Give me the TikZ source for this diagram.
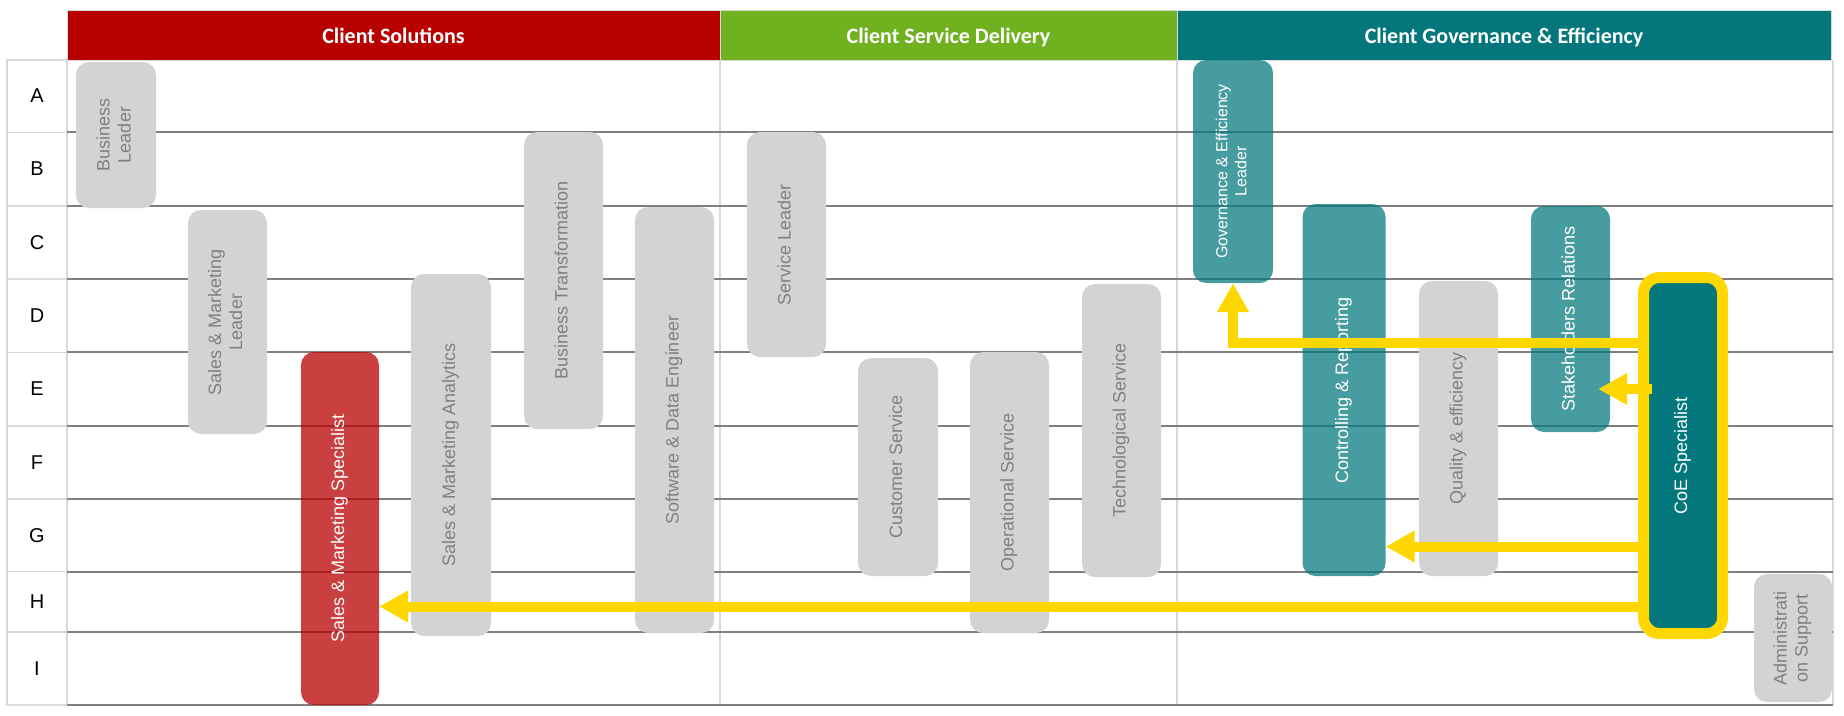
\documentclass[tikz,border=0pt]{standalone}
\usepackage{fontspec}
\setmainfont{Liberation Sans}
\newfontfamily\headfont{Carlito}
\usepackage{tikz}
\usetikzlibrary{arrows.meta, calc}
\definecolor{solred}{RGB}{184, 0, 0}
\definecolor{delgreen}{RGB}{112, 177, 32}
\definecolor{govteal}{RGB}{3, 119, 124}
\definecolor{rolegrey}{RGB}{211, 211, 211}
\definecolor{roletext}{RGB}{128, 128, 128}
\definecolor{gridline}{RGB}{127, 127, 127}
\definecolor{gridlight}{RGB}{217, 217, 217}
\definecolor{flowyellow}{RGB}{255, 215, 0}
\newcommand{\vlabel}[1]{\rotatebox{90}{\begin{tabular}{@{}c@{}}#1\end{tabular}}}
\tikzset{
    headcell/.style={draw=gridlight, line width=1pt, inner sep=0pt, minimum height=50pt, text height=17pt, text depth=0pt, text=white, font=\headfont\fontsize{22}{26}\selectfont\bfseries},
    rowlabel/.style={inner sep=0pt, font=\fontsize{20}{24}\selectfont},
    role/.style={rounded corners=13pt, inner sep=0pt, font=\fontsize{18}{21}\selectfont},
    greyrole/.style={role, fill=rolegrey, text=roletext},
    redrole/.style={role, fill=solred, fill opacity=0.75, text opacity=1, text=white},
    tealrole/.style={role, fill=govteal, fill opacity=0.73, text opacity=1, text=white},
    focusrole/.style={role, fill=govteal, draw=flowyellow, line width=11pt, rounded corners=16pt, text=white},
    flow/.style={draw=flowyellow, line width=10pt, -{Triangle[length=29pt, width=30pt]}},
    rowline/.style={draw=gridline, line width=2pt},
    colline/.style={draw=gridlight, line width=1.5pt}
}

\begin{document}
\begin{tikzpicture}[x=1pt, y=-1pt]
    \useasboundingbox (0,0) rectangle (1844,715);

    % grid
    \draw[colline] (7,60) rectangle (67,705);
    \foreach \y in {132.3,206,279,352.3,426,499,571.7,632}
        \draw[colline] (7,\y) -- (67,\y);
    \draw[colline] (720,10) -- (720,705);
    \draw[colline] (1177,10) -- (1177,705);
    \draw[colline] (1833,60) -- (1833,705);
    \foreach \y in {132.3,206,279,352.3,426,499,571.7,632,705}
        \draw[rowline] (67,\y) -- (1833,\y);

    % headers
    \node[headcell, fill=solred, minimum width=653pt] (solhead) at (393.5,35) {Client Solutions};
    \node[headcell, fill=delgreen, minimum width=457pt] (delhead) at (948.5,35) {Client Service Delivery};
    \node[headcell, fill=govteal, minimum width=654pt] (govhead) at (1504,35) {Client Governance \& Efficiency};

    % row letters
    \node[rowlabel] (rowA) at (37,96) {A};
    \node[rowlabel] (rowB) at (37,169) {B};
    \node[rowlabel] (rowC) at (37,242.5) {C};
    \node[rowlabel] (rowD) at (37,315.5) {D};
    \node[rowlabel] (rowE) at (37,389) {E};
    \node[rowlabel] (rowF) at (37,462.5) {F};
    \node[rowlabel] (rowG) at (37,535.5) {G};
    \node[rowlabel] (rowH) at (37,602) {H};
    \node[rowlabel] (rowI) at (37,668.5) {I};

    % roles
    \node[greyrole, minimum width=80pt, minimum height=146pt] (bizlead) at (116,135) {\vlabel{Business\\Leader}};
    \node[greyrole, minimum width=79pt, minimum height=224pt] (smlead) at (227.5,322) {\vlabel{Sales \& Marketing\\Leader}};
    \node[redrole, minimum width=78pt, minimum height=353pt] (smspec) at (340,528.5) {\vlabel{Sales \& Marketing Specialist}};
    \node[greyrole, minimum width=80pt, minimum height=362pt] (smanal) at (451,455) {\vlabel{Sales \& Marketing Analytics}};
    \node[greyrole, minimum width=79pt, minimum height=297pt] (biztrans) at (563.5,280.5) {\vlabel{Business Transformation}};
    \node[greyrole, minimum width=79pt, minimum height=426pt] (swdata) at (674.5,420) {\vlabel{Software \& Data Engineer}};
    \node[greyrole, minimum width=79pt, minimum height=225pt] (svclead) at (786.5,244.5) {\vlabel{Service Leader}};
    \node[greyrole, minimum width=80pt, minimum height=218pt] (custsvc) at (898,467) {\vlabel{Customer Service}};
    \node[greyrole, minimum width=79pt, minimum height=281pt] (opsvc) at (1009.5,492.5) {\vlabel{Operational Service}};
    \node[greyrole, minimum width=79pt, minimum height=293pt] (techsvc) at (1121.5,430.5) {\vlabel{Technological Service}};
    \node[tealrole, minimum width=80pt, minimum height=223pt, font=\fontsize{16}{19}\selectfont] (govlead) at (1233,171.5) {\vlabel{Governance \& Efficiency\\Leader}};
    \node[tealrole, minimum width=83pt, minimum height=372pt] (ctrlrep) at (1344,390) {\vlabel{Controlling \& Reporting}};
    \node[greyrole, minimum width=79pt, minimum height=295pt] (quality) at (1458.5,428.5) {\vlabel{Quality \& efficiency}};
    \node[tealrole, minimum width=79pt, minimum height=226pt] (stake) at (1570.5,319) {\vlabel{Stakeholders Relations}};
    \node[focusrole, minimum width=79pt, minimum height=356pt] (coe) at (1683,455.5) {\vlabel{CoE Specialist}};
    \node[greyrole, minimum width=78pt, minimum height=128pt] (admin) at (1793,638) {\vlabel{Administrati\\on Support}};

    % flows out of the CoE
    \draw[flow] (coe.west |- 0,342.5) -| (govlead.south);
    \draw[flow] ($(coe.west |- 0,389)+(14,0)$) -- ($(stake.east |- 0,389)+(-12,0)$);
    \draw[flow] (coe.west |- 0,546.5) -- (ctrlrep.east |- 0,546.5);
    \draw[flow] (coe.west |- 0,606.5) -- (smspec.east |- 0,606.5);
\end{tikzpicture}
\end{document}
